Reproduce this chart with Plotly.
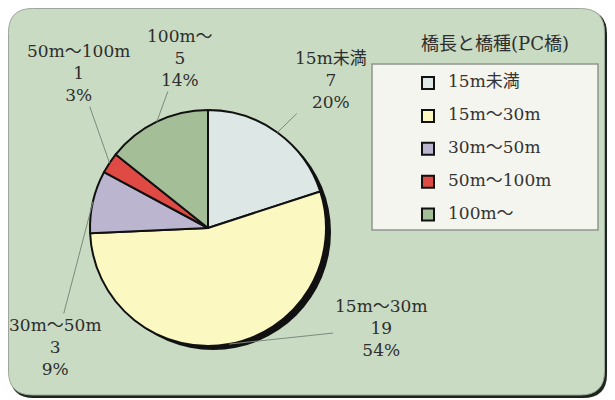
import math
import plotly.graph_objects as go

# data
categories = ["15m未満", "15m〜30m", "30m〜50m", "50m〜100m", "100m〜"]
counts = [7, 19, 3, 1, 5]
percents = ["20%", "54%", "9%", "3%", "14%"]
legend_title = "橋長と橋種(PC橋)"

colors = ["#dde8e6", "#fbf8c2", "#bcb5d0", "#e04a44", "#a4bf98"]

# page has an 8px body margin, so the figure is drawn 8px in from the corner
OFF = 8
W, H = 615 - OFF, 400 - OFF
cx, cy, R = 208, 228, 118          # pie centre / radius in screen pixels
label_xy = [(331, 80), (381, 328), (55, 347), (78, 73), (180, 58)]  # label centres

SERIF = "DejaVu Serif, Noto Sans CJK JP"


def px(x, y):
    return (x - OFF) / W, 1 - (y - OFF) / H


def rounded_rect(x0, y0, x1, y1, r):
    a, b = px(x0, y0)
    c, d = px(x1, y1)
    rx, ry = r / W, r / H
    return (f"M {a + rx},{b} L {c - rx},{b} Q {c},{b} {c},{b - ry} "
            f"L {c},{d + ry} Q {c},{d} {c - rx},{d} L {a + rx},{d} "
            f"Q {a},{d} {a},{d + ry} L {a},{b - ry} Q {a},{b} {a + rx},{b} Z")


def pie_domain(dx=0, dy=0):
    x0, y0 = px(cx - R + dx, cy + R + dy)
    x1, y1 = px(cx + R + dx, cy - R + dy)
    return dict(x=[x0, x1], y=[y0, y1])


fig = go.Figure()

# drop shadow under the pie
fig.add_trace(go.Pie(
    values=[1], marker=dict(colors=["#111111"]), textinfo="none",
    hoverinfo="skip", showlegend=False, sort=False,
    domain=pie_domain(5, 4),
))

legend_labels = [f"<span style='font-size:17px;font-family:{SERIF}'>{c}</span><br>&nbsp;"
                 for c in categories]

fig.add_trace(go.Pie(
    labels=legend_labels, values=counts, sort=False, direction="clockwise",
    rotation=0, textinfo="none", hoverinfo="label+value",
    marker=dict(colors=colors, line=dict(color="#111111", width=2)),
    domain=pie_domain(),
))

annotations = []
total = sum(counts)
cum = 0
for cat, n, pct, (lx_, ly_) in zip(categories, counts, percents, label_xy):
    mid = (cum + n / 2) / total * 2 * math.pi
    cum += n
    ex, ey = cx + R * math.sin(mid), cy - R * math.cos(mid)
    x, y = px(ex, ey)
    annotations.append(dict(
        xref="paper", yref="paper", x=x, y=y,
        ax=lx_ - ex, ay=ly_ - ey, axref="pixel", ayref="pixel",
        text=f"{cat}<br>{n}<br>{pct}", showarrow=True, arrowhead=0,
        arrowwidth=1, arrowcolor="#7d8a7d", standoff=0,
        font=dict(family=SERIF, size=17, color="#2e2e2e"), align="center",
    ))

tx, ty = px(495, 43)
annotations.append(dict(
    xref="paper", yref="paper", x=tx, y=ty, xanchor="center", yanchor="middle",
    text=legend_title, showarrow=False,
    font=dict(family=SERIF, size=18, color="#2e2e2e"),
))

shapes = [
    dict(type="path", path=rounded_rect(10, 10, 607, 398, 24), fillcolor="#1d261d",
         line=dict(width=0), layer="below", xref="paper", yref="paper"),
    dict(type="path", path=rounded_rect(8.5, 8.5, 604.5, 395, 24), fillcolor="#c9dbc3",
         line=dict(color="#9aa79a", width=1), layer="below", xref="paper", yref="paper"),
]
bx0, by0 = px(372, 64)
bx1, by1 = px(598, 230)
shapes.append(dict(type="rect", x0=bx0, y0=by0, x1=bx1, y1=by1, xref="paper", yref="paper",
                   fillcolor="#f4f5ee", line=dict(color="#8e968e", width=1.5), layer="below"))

lx, ly = px(408, 69)
fig.update_layout(
    width=W, height=H,
    margin=dict(l=0, r=0, t=0, b=0),
    paper_bgcolor="white", plot_bgcolor="white",
    annotations=annotations, shapes=shapes,
    legend=dict(x=lx, y=ly, xanchor="left", yanchor="top", valign="top",
                bgcolor="rgba(0,0,0,0)", font=dict(size=11.5, family=SERIF, color="#333333")),
)

fig.write_html("out.html")
